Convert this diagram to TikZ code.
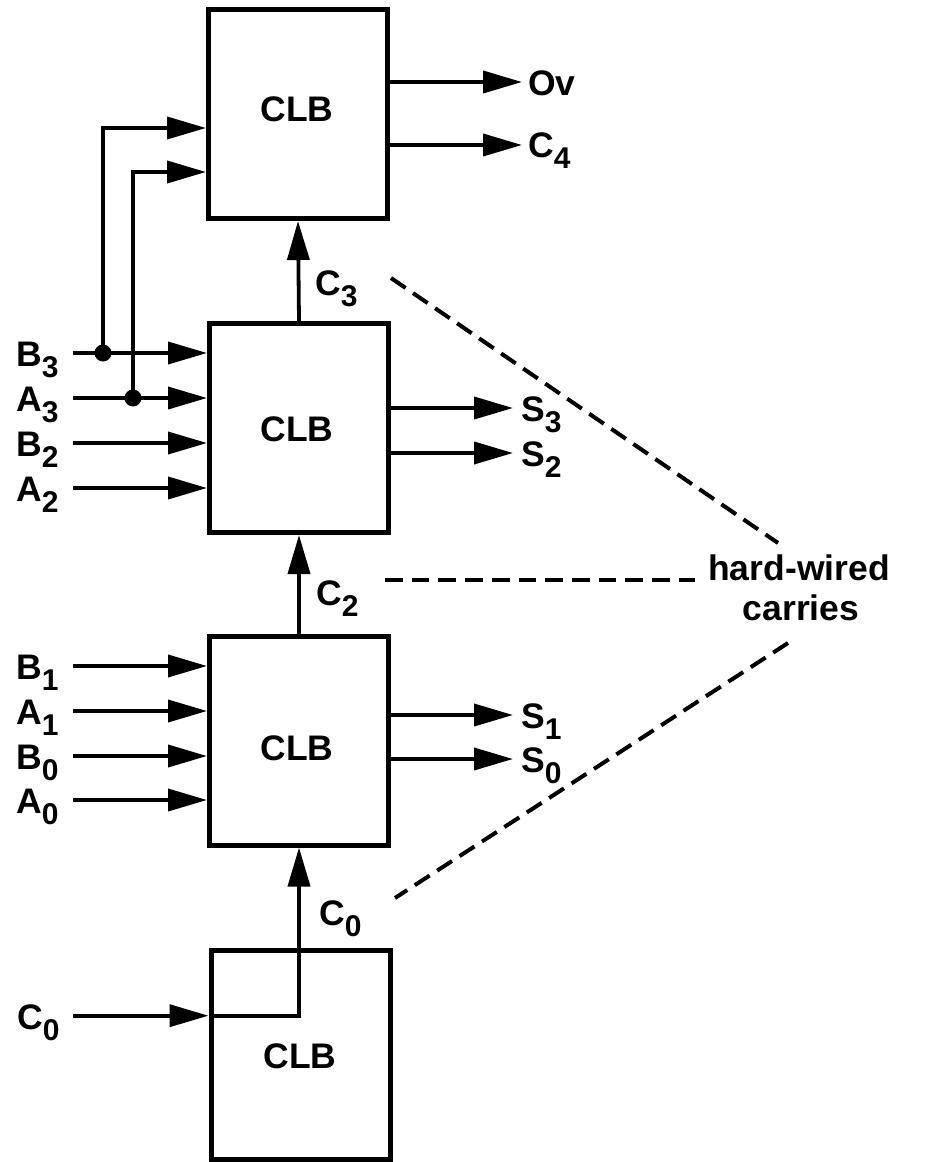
\documentclass[tikz,border=0pt]{standalone}
\usepackage{fontspec}
\setmainfont{Liberation Sans}
\usetikzlibrary{arrows.meta}
\newcommand{\lsub}[1]{\raisebox{-11pt}{\fontsize{30}{30}\selectfont #1}}
\begin{document}
\begin{tikzpicture}[x=1pt,y=-1pt,
  clb/.style={draw, line width=5pt, minimum width=179pt, minimum height=209pt, inner sep=0pt},
  wire/.style={line width=3.8pt},
  arr/.style={wire, -{Triangle[length=39pt,width=22pt]}},
  lbl/.style={inner sep=0pt, anchor=base west, font=\fontsize{35.5}{38}\selectfont\bfseries},
  ctxt/.style={inner sep=0pt, anchor=base, font=\fontsize{35.5}{38}\selectfont\bfseries},
  jdot/.style={circle, fill, inner sep=0pt, minimum size=17pt},
  hwline/.style={line width=4pt, dash pattern=on 17.7pt off 9pt}]
\useasboundingbox (0,0) rectangle (940,1162);

% CLB boxes
\node[clb] (b4) at (298,114) {};
\node[clb] (b3) at (299,428) {};
\node[clb] (b2) at (299,740.5) {};
\node[clb] (b1) at (300.5,1054.75) {};
\node[ctxt] (t4) at (297,121.7) {CLB};
\node[ctxt] (t3) at (297,441.7) {CLB};
\node[ctxt] (t2) at (297,760) {CLB};
\node[ctxt] (t1) at (300,1068) {CLB};

% inputs
\foreach \l/\d/\y in {B/3/353, A/3/398, B/2/443, A/2/488}{
  \node[lbl] (l\l\d) at (16,\y+13.7) {\l\lsub{\d}};
  \coordinate (i\l\d) at (73,\y);
  \draw[arr] (i\l\d) -- (i\l\d -| b3.west);
}
\foreach \l/\d/\y in {B/1/666, A/1/711, B/0/756, A/0/800}{
  \node[lbl] (l\l\d) at (16,\y+13.7) {\l\lsub{\d}};
  \coordinate (i\l\d) at (73,\y);
  \draw[arr] (i\l\d) -- (i\l\d -| b2.west);
}

% feeds to top CLB
\node[jdot] (dB3) at (103,353) {};
\node[jdot] (dA3) at (133,398) {};
\draw[arr] (dB3.center) |- (b4.west |- 0,128);
\draw[arr] (dA3.center) |- (b4.west |- 0,172);

% outputs
\coordinate (oOv) at (522,82);
\coordinate (oC4) at (522,145);
\draw[arr] (oOv -| b4.east) -- (oOv);
\draw[arr] (oC4 -| b4.east) -- (oC4);
\node[lbl] (lOv) at (528,95.5) {Ov};
\node[lbl] (lC4) at (528,157) {C\lsub{4}};

\foreach \d/\y/\b in {3/408/b3, 2/453/b3, 1/715/b2, 0/759/b2}{
  \coordinate (oS\d) at (513,\y);
  \draw[arr] (oS\d -| \b.east) -- (oS\d);
  \node[lbl] (lS\d) at (521,\y+13.7) {S\lsub{\d}};
}

% carries
\draw[arr] (b3.north) -- (b4.south);
\draw[arr] (b2.north) -- (b3.south);
\node[lbl] (lC3) at (315,295) {C\lsub{3}};
\node[lbl] (lC2) at (316,605) {C\lsub{2}};
\node[lbl] (lC0u) at (319,925) {C\lsub{0}};

% bottom CLB carry-in
\coordinate (iC0) at (73,1015.7);
\node[lbl] (lC0) at (17,1029.4) {C\lsub{0}};
\draw[arr] (iC0) -- (iC0 -| b1.west);
\draw[arr] (iC0 -| b1.west) -| (b2.south);

% hard-wired carries annotation
\node[ctxt] (hw1) at (799,580) {hard-wired};
\node[ctxt] (hw2) at (801,620) {carries};
\coordinate (d1a) at (391,278);
\coordinate (d1b) at (778,543);
\coordinate (d2a) at (385,580);
\coordinate (d2b) at (695,580);
\coordinate (d3a) at (788,643);
\coordinate (d3b) at (395,898);
\draw[hwline] (d1a) -- (d1b);
\draw[hwline] (d2a) -- (d2b);
\draw[hwline] (d3a) -- (d3b);
\end{tikzpicture}
\end{document}
